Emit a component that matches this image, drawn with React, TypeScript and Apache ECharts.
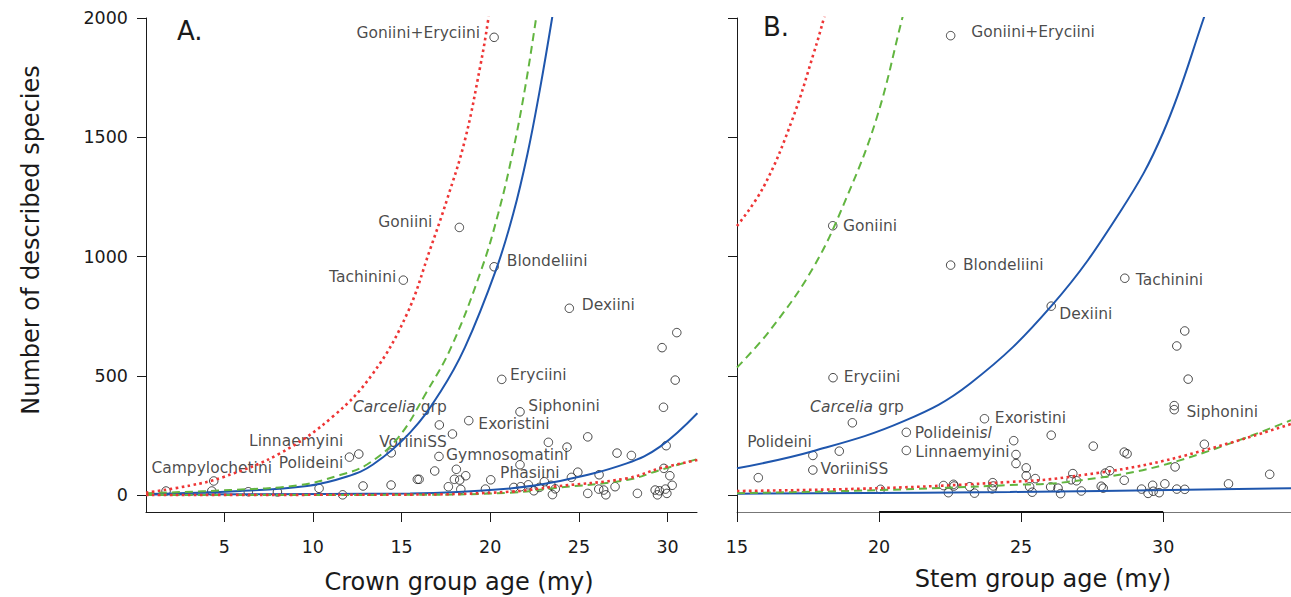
import { useEffect, useRef } from 'react';
import * as echarts from 'echarts';

const FONT = '"DejaVu Sans", Verdana, sans-serif';
const INK = '#1a1a1a';
const BLUE = '#1f56ad';
const GREEN = '#62b540';
const RED = '#ee3535';

// ---- axes ----
const Y_TICKS = [0, 500, 1000, 1500, 2000];
const CROWN_TICKS = [5, 10, 15, 20, 25, 30];
const STEM_TICKS = [15, 20, 25, 30];

// ---- Panel A: crown group age (my) vs described species ----
const crownNamed: [number, number, string][] = [
  [20.22, 1919, 'Goniini+Eryciini'],
  [18.26, 1122, 'Goniini'],
  [20.22, 957, 'Blondeliini'],
  [15.1, 901, 'Tachinini'],
  [24.46, 783, 'Dexiini'],
  [20.65, 485, 'Eryciini'],
  [21.68, 349, 'Siphonini'],
  [18.79, 312, 'Exoristini'],
  [17.13, 294, 'Carcelia grp'],
  [17.87, 256, 'VoriiniSS'],
  [17.11, 162, 'Gymnosomatini'],
  [20.03, 64, 'Phasiini'],
  [12.59, 172, 'Linnaemyini'],
  [12.06, 159, 'Polideini'],
  [4.41, 59, 'Campylochetini'],
];
const crownOther: [number, number][] = [
  [30.52, 681], [29.69, 618], [30.43, 482], [29.77, 368],
  [23.28, 221], [25.5, 244], [24.33, 201], [29.92, 207], [27.15, 176], [27.96, 166],
  [21.68, 127], [16.87, 101], [18.09, 108], [15.99, 66], [17.98, 66], [18.62, 81], [18.28, 63],
  [17.64, 35], [18.34, 24], [19.73, 25], [21.33, 32], [21.72, 35], [22.15, 43], [22.46, 18],
  [23.05, 56], [23.43, 41], [22.77, 32], [23.51, 2], [23.67, 26], [24.58, 74], [24.94, 96],
  [26.14, 85], [25.5, 7], [26.12, 25], [26.4, 21], [26.52, 1], [27.04, 35], [28.3, 7],
  [29.3, 21], [29.43, 1], [29.54, 18], [29.96, 7], [29.88, 25], [30.26, 41], [30.13, 81],
  [29.79, 112], [1.72, 17], [4.3, 17], [6.36, 14], [8.0, 13], [10.35, 28], [11.68, 1],
  [12.83, 38], [14.42, 177], [14.41, 42], [15.89, 66],
];

// expected-diversity bounds, crown ages
const crownUpperEps0: [number, number][] = [
  [0.59, 4], [5.89, 17], [9.67, 38], [11.93, 78], [13.39, 128], [15.48, 262], [17.17, 430],
  [18.58, 620], [20.33, 945], [21.3, 1180], [22.1, 1430], [22.8, 1700], [23.49, 2000], [23.66, 2090],
];
const crownUpperEps05: [number, number][] = [
  [0.59, 8], [5.33, 21], [9.28, 42], [11.53, 84], [13.05, 128], [14.8, 240], [16.4, 430],
  [17.8, 620], [19.5, 945], [20.45, 1180], [21.25, 1430], [21.95, 1700], [22.59, 2000], [22.76, 2090],
];
const crownUpperEps09: [number, number][] = [
  [0.59, 10], [3.07, 40], [4.93, 75], [8.15, 175], [11.14, 330], [13.39, 510], [15.31, 760],
  [16.61, 1030], [17.57, 1240], [18.58, 1490], [19.43, 1795], [19.88, 1990], [20.0, 2075],
];
const crownLowerEps0: [number, number][] = [
  [0.59, 2], [15.48, 7], [21.12, 28], [23.94, 59], [27.7, 133], [29.58, 203], [31.68, 343],
];
const crownLowerEps05: [number, number][] = [
  [0.59, 0], [15.48, 1], [21.12, 10], [23.55, 29], [27.7, 63], [29.58, 105], [31.68, 151],
];
const crownLowerEps09: [number, number][] = [
  [0.59, 0.5], [15.48, 2], [21.12, 14], [23.55, 35], [27.7, 70], [29.58, 112], [31.68, 147],
];

// ---- Panel B: stem group age (my) vs described species ----
const stemNamed: [number, number, string][] = [
  [22.52, 1926, 'Goniini+Eryciini'],
  [18.37, 1129, 'Goniini'],
  [22.52, 964, 'Blondeliini'],
  [28.65, 909, 'Tachinini'],
  [26.06, 792, 'Dexiini'],
  [18.38, 492, 'Eryciini'],
  [19.06, 303, 'Carcelia grp'],
  [23.71, 320, 'Exoristini'],
  [20.96, 263, 'Polideinisl'],
  [20.96, 187, 'Linnaemyini'],
  [17.67, 166, 'Polideini'],
  [17.67, 105, 'VoriiniSS'],
  [30.39, 358, 'Siphonini'],
];
const stemOther: [number, number][] = [
  [30.76, 688], [30.48, 625], [30.88, 486], [30.39, 375],
  [18.6, 184], [15.75, 73], [31.45, 213], [26.06, 251], [27.54, 205], [28.63, 180], [28.73, 173],
  [24.74, 228], [24.82, 170], [24.82, 132], [25.18, 114], [25.18, 81], [25.5, 69], [25.3, 35],
  [25.39, 12], [26.04, 34], [26.3, 29], [26.39, 6], [26.82, 90], [26.76, 64], [26.95, 60],
  [27.12, 17], [27.82, 37], [27.89, 29], [27.96, 92], [28.12, 102], [28.63, 62], [29.24, 25],
  [29.47, 7], [29.63, 41], [29.65, 16], [29.86, 10], [30.06, 47], [30.42, 118], [30.48, 25],
  [30.76, 24], [32.3, 47], [33.75, 87], [20.05, 24], [22.27, 40], [22.44, 10], [22.62, 45],
  [22.64, 38], [23.19, 35], [23.36, 8], [24.0, 52], [24.02, 38], [23.98, 26],
];

const stemUpperEps0: [number, number][] = [
  [15, 112], [17.7, 185], [20.87, 310], [23.21, 468], [26.06, 792], [28.5, 1190],
  [30.0, 1520], [31.43, 2000], [31.6, 2080],
];
const stemUpperEps05: [number, number][] = [
  [15, 535], [16.17, 692], [17.7, 957], [18.87, 1251], [19.93, 1586], [20.83, 2005], [21.0, 2080],
];
const stemUpperEps09: [number, number][] = [
  [15, 1128], [15.94, 1293], [16.94, 1572], [17.7, 1852], [18.07, 2005], [18.2, 2075],
];
const stemLowerEps0: [number, number][] = [[15, 6], [24.61, 13], [34.5, 29]];
const stemLowerEps05: [number, number][] = [
  [15, 8], [20.04, 21], [24.61, 42], [26.62, 55], [30.14, 130], [34.5, 314],
];
const stemLowerEps09: [number, number][] = [
  [15, 17], [20.04, 29], [24.61, 55], [26.62, 75], [30.14, 147], [34.5, 298],
];

// label placement next to the named points: [align, dx, dy] in px
const crownLabelLayout: Record<string, [string, number, number]> = {
  'Goniini+Eryciini': ['right', -14, -4],
  Goniini: ['right', -27, -5.6],
  Tachinini: ['right', -7, -3],
  Blondeliini: ['left', 12.7, -6],
  Dexiini: ['left', 12.4, -3.3],
  Eryciini: ['left', 8.3, -4.3],
  Siphonini: ['left', 8.3, -5.7],
  Exoristini: ['left', 9.6, 3.6],
  'Carcelia grp': ['right', 7.4, -17.7],
  VoriiniSS: ['right', -5.6, 7.7],
  Gymnosomatini: ['left', 7, -1],
  Phasiini: ['left', 9.3, -7],
  Linnaemyini: ['right', -15.4, -13.3],
  Polideini: ['right', -6, 5.7],
  Campylochetini: ['center', -2, -12.7],
};
const stemLabelLayout: Record<string, [string, number, number]> = {
  'Goniini+Eryciini': ['left', 20.6, -4],
  Goniini: ['left', 10.3, 0],
  Blondeliini: ['left', 12.3, 0],
  Tachinini: ['left', 11, 1.7],
  Dexiini: ['left', 8, 8.3],
  Eryciini: ['left', 10.7, -1],
  'Carcelia grp': ['center', 4.7, -15.4],
  Exoristini: ['left', 10.4, -1],
  Polideinisl: ['left', 8.5, 1],
  Linnaemyini: ['left', 9, 1.4],
  Polideini: ['right', -1, -13],
  VoriiniSS: ['left', 7.7, -0.7],
  Siphonini: ['left', 12.3, 2.2],
};
const DISPLAY: Record<string, string> = {
  'Carcelia grp': '{i|Carcelia} grp',
  Polideinisl: 'Polideini{i|sl}',
};

function scatterData(
  named: [number, number, string][],
  other: [number, number][],
  layout: Record<string, [string, number, number]>
) {
  const items: any[] = named.map(([x, y, name]) => {
    const [align, dx, dy] = layout[name];
    return {
      value: [x, y],
      name,
      label: {
        show: true,
        position: 'inside',
        align,
        verticalAlign: 'middle',
        offset: [dx, dy],
        formatter: DISPLAY[name] ?? name,
      },
    };
  });
  return items.concat(other.map((v) => ({ value: v })));
}

function scatterSeries(idx: number, data: any[]) {
  return {
    type: 'scatter',
    xAxisIndex: idx,
    yAxisIndex: idx,
    data,
    symbol: 'circle',
    symbolSize: 8.5,
    z: 2,
    silent: true,
    emphasis: { disabled: true },
    itemStyle: { color: 'rgba(255,255,255,0)', borderColor: INK, borderWidth: 1 },
    label: {
      show: false,
      color: INK,
      fontSize: 15.5,
      fontFamily: FONT,
      textBorderWidth: 0,
      rich: { i: { fontStyle: 'italic', fontSize: 15.5, fontFamily: FONT, color: INK } },
    },
  };
}

function curve(idx: number, data: [number, number][], color: string, kind: 'solid' | 'dash' | 'dot', extra: any = {}) {
  return {
    type: 'line',
    xAxisIndex: idx,
    yAxisIndex: idx,
    data,
    symbol: 'none',
    showSymbol: false,
    smooth: 0.4,
    clip: true,
    silent: true,
    z: kind === 'dot' ? 5 : kind === 'dash' ? 4 : 3,
    lineStyle: {
      color,
      width: kind === 'dot' ? 2.6 : 2,
      type: kind === 'solid' ? 'solid' : kind === 'dash' ? [8, 5] : [2.6, 3.4],
      cap: 'butt',
    },
    ...extra,
  };
}

function xAxis(idx: number, min: number, max: number, ticks: number[], lineColor: string) {
  return {
    gridIndex: idx,
    type: 'value',
    min,
    max,
    axisLine: { show: true, onZero: false, lineStyle: { color: lineColor, width: 1 } },
    axisTick: { show: true, inside: false, length: 10, customValues: ticks, lineStyle: { color: INK } },
    axisLabel: {
      show: true,
      customValues: ticks,
      fontSize: 17.5,
      fontFamily: FONT,
      color: INK,
      margin: 26,
      formatter: (v: number) => String(v),
    },
    splitLine: { show: false },
  };
}

function yAxis(idx: number, showLabels: boolean) {
  return {
    gridIndex: idx,
    type: 'value',
    min: -71,
    max: 2000,
    axisLine: { show: true, onZero: false, lineStyle: { color: INK, width: 1 } },
    axisTick: { show: true, inside: false, length: 9, customValues: Y_TICKS, lineStyle: { color: INK } },
    axisLabel: {
      show: showLabels,
      customValues: Y_TICKS,
      fontSize: 17.5,
      fontFamily: FONT,
      color: INK,
      margin: 18,
      formatter: (v: number) => String(v),
    },
    splitLine: { show: false },
  };
}

function text(t: string, x: number, y: number, size: number, align = 'center', rotation = 0) {
  return {
    type: 'text',
    x,
    y,
    rotation,
    silent: true,
    style: {
      text: t,
      fill: INK,
      fontSize: size,
      fontFamily: FONT,
      align,
      textAlign: align,
      verticalAlign: 'middle',
      textVerticalAlign: 'middle',
    },
  };
}

export default function App() {
  const ref = useRef<HTMLDivElement>(null);

  useEffect(() => {
    document.body.style.margin = '0';
    if (!ref.current) return;
    const chart = echarts.init(ref.current, null, { renderer: 'svg' });
    chart.setOption({
      animation: false,
      backgroundColor: '#ffffff',
      grid: [
        { left: 146, top: 18, width: 551, height: 494, outerBoundsMode: 'none', containLabel: false },
        { left: 737, top: 18, width: 554, height: 494, outerBoundsMode: 'none', containLabel: false },
      ],
      xAxis: [xAxis(0, 0.59, 31.66, CROWN_TICKS, INK), xAxis(1, 15, 34.5, STEM_TICKS, '#777777')],
      yAxis: [yAxis(0, true), yAxis(1, false)],
      series: [
        scatterSeries(0, scatterData(crownNamed, crownOther, crownLabelLayout)),
        scatterSeries(1, scatterData(stemNamed, stemOther, stemLabelLayout)),
        curve(0, crownUpperEps0, BLUE, 'solid'),
        curve(0, crownLowerEps0, BLUE, 'solid'),
        curve(0, crownUpperEps05, GREEN, 'dash'),
        curve(0, crownLowerEps05, GREEN, 'dash'),
        curve(0, crownUpperEps09, RED, 'dot'),
        curve(0, crownLowerEps09, RED, 'dot'),
        curve(1, stemUpperEps0, BLUE, 'solid'),
        curve(1, stemLowerEps0, BLUE, 'solid', {
          markLine: {
            silent: true,
            symbol: ['none', 'none'],
            label: { show: false },
            lineStyle: { color: '#111111', width: 2, type: 'solid' },
            data: [[{ coord: [20, -71] }, { coord: [30, -71] }]],
          },
        }),
        curve(1, stemUpperEps05, GREEN, 'dash'),
        curve(1, stemLowerEps05, GREEN, 'dash'),
        curve(1, stemUpperEps09, RED, 'dot'),
        curve(1, stemLowerEps09, RED, 'dot'),
      ],
      graphic: [
        text('A.', 177, 31, 26, 'left'),
        text('B.', 763, 27, 26, 'left'),
        text('Number of described species', 31, 240, 24, 'center', Math.PI / 2),
        text('Crown group age (my)', 459, 582, 24),
        text('Stem group age (my)', 1043, 579, 24),
      ],
    });
    return () => chart.dispose();
  }, []);

  return <div ref={ref} style={{ width: 1291, height: 597 }} />;
}
